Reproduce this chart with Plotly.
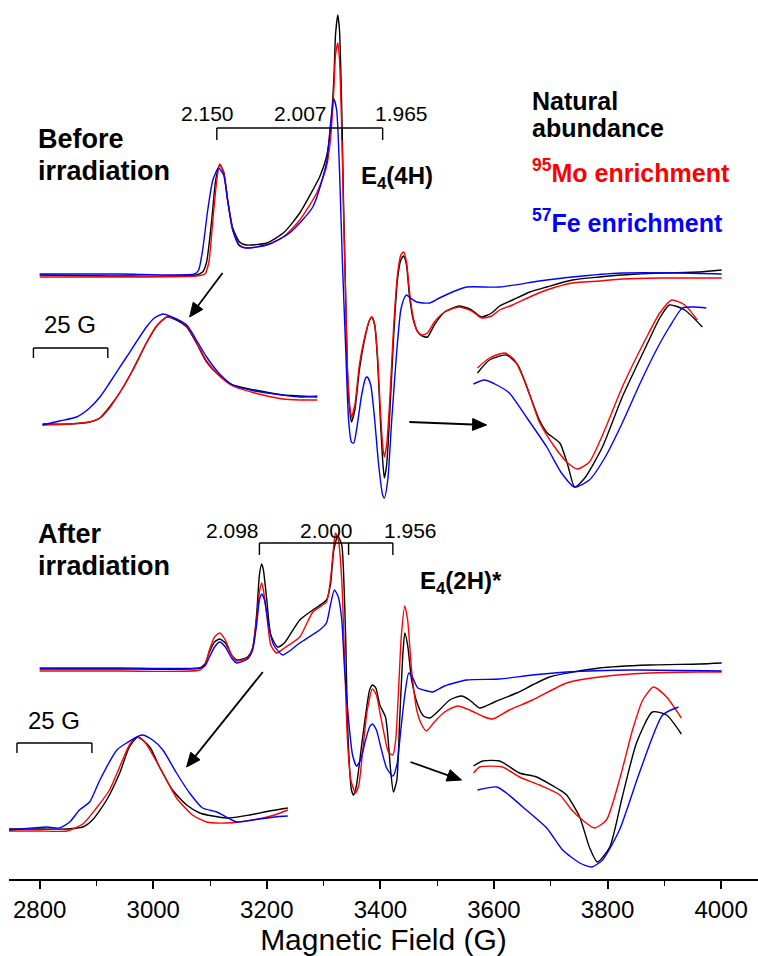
import plotly.graph_objects as go

# ---------------- data (field in G, signal in arbitrary units) ----------------
# Before irradiation, E4(4H)
before_nat_x = [2800, 2941, 3076, 3087, 3094, 3103, 3110, 3117, 3124, 3131, 3140, 3152, 3164, 3200, 3231, 3258, 3281, 3293, 3305, 3312, 3318, 3321, 3325, 3328, 3332, 3335, 3339, 3342, 3346, 3349, 3355, 3363, 3372, 3381, 3385, 3390, 3395, 3400, 3404, 3407, 3411, 3416, 3423, 3430, 3436, 3441, 3446, 3451, 3458, 3466, 3474, 3483, 3495, 3513, 3539, 3561, 3578, 3596, 3610, 3633, 3663, 3693, 3738, 3786, 3826, 3892, 3962, 4001]
before_nat_y = [604, 603, 604, 607, 617, 659, 699, 714, 707, 679, 651, 637, 634, 636, 647, 666, 689, 702, 722, 749, 799, 844, 864, 849, 769, 679, 579, 509, 469, 457, 469, 509, 539, 559, 562, 554, 519, 459, 419, 401, 414, 459, 539, 599, 619, 623, 614, 584, 559, 547, 543, 542, 554, 567, 573, 569, 562, 566, 573, 579, 587, 592, 599, 602, 604, 606, 607, 609]

before_mo_x = [2800, 2941, 3076, 3091, 3098, 3105, 3112, 3117, 3124, 3131, 3140, 3152, 3164, 3200, 3231, 3258, 3288, 3305, 3312, 3318, 3321, 3325, 3328, 3332, 3335, 3339, 3342, 3346, 3349, 3355, 3363, 3372, 3381, 3385, 3390, 3395, 3400, 3404, 3407, 3411, 3416, 3423, 3430, 3436, 3441, 3446, 3451, 3458, 3466, 3473, 3483, 3495, 3513, 3539, 3561, 3578, 3596, 3610, 3633, 3663, 3693, 3738, 3786, 3826, 3892, 3962, 4001]
before_mo_y = [602, 602, 603, 605, 617, 659, 699, 715, 707, 679, 649, 634, 631, 634, 643, 659, 686, 712, 739, 789, 824, 836, 819, 749, 669, 579, 509, 474, 462, 474, 514, 541, 559, 562, 554, 524, 469, 434, 422, 434, 474, 549, 604, 624, 627, 617, 589, 561, 547, 544, 546, 557, 567, 572, 568, 561, 563, 569, 574, 582, 589, 596, 598, 600, 601, 601, 601]

before_fe_x = [2800, 2941, 3073, 3080, 3087, 3096, 3105, 3115, 3124, 3131, 3140, 3152, 3166, 3205, 3240, 3281, 3305, 3312, 3318, 3323, 3328, 3333, 3339, 3344, 3349, 3353, 3358, 3367, 3374, 3377, 3383, 3390, 3397, 3404, 3407, 3413, 3420, 3429, 3436, 3443, 3446, 3453, 3464, 3487, 3504, 3531, 3552, 3610, 3680, 3738, 3826, 3927, 4001]
before_fe_y = [605, 605, 605, 609, 629, 669, 699, 711, 704, 679, 649, 633, 631, 635, 646, 672, 716, 754, 780, 769, 709, 619, 529, 459, 437, 436, 449, 484, 501, 502, 494, 459, 414, 384, 381, 399, 459, 529, 569, 582, 584, 581, 577, 576, 581, 588, 592, 592, 598, 602, 606, 606, 605]

# Before irradiation, expanded low-field peak (inset, 25 G bar)
inset1_nat_x = [2805, 2853, 2888, 2906, 2923, 2944, 2964, 2988, 3006, 3024, 3041, 3059, 3076, 3094, 3117, 3140, 3179, 3228, 3258, 3289]
inset1_nat_y = [455, 455, 457, 461, 472, 489, 509, 536, 553, 562, 559, 552, 536, 517, 503, 494, 489, 484, 483, 482]
inset1_mo_x = [2805, 2853, 2888, 2906, 2923, 2944, 2964, 2988, 3006, 3024, 3041, 3059, 3076, 3094, 3117, 3140, 3179, 3228, 3258, 3289]
inset1_mo_y = [454, 455, 457, 461, 471, 489, 509, 536, 553, 562, 560, 553, 537, 518, 503, 493, 486, 480, 479, 479]
inset1_fe_x = [2805, 2835, 2865, 2888, 2906, 2923, 2953, 2988, 3002, 3017, 3029, 3059, 3076, 3094, 3117, 3140, 3179, 3228, 3258, 3289]
inset1_fe_y = [454, 458, 462, 471, 482, 496, 522, 552, 561, 565, 563, 554, 539, 522, 505, 494, 488, 484, 482, 483]

# Before irradiation, expanded high-field feature (inset)
inset2_nat_x = [3571, 3592, 3622, 3642, 3663, 3680, 3694, 3716, 3730, 3742, 3760, 3791, 3826, 3869, 3892, 3909, 3936, 3967]
inset2_nat_y = [506, 519, 524, 514, 484, 459, 446, 436, 414, 392, 401, 432, 482, 534, 561, 574, 569, 552]
inset2_mo_x = [3571, 3592, 3619, 3636, 3657, 3680, 3707, 3730, 3747, 3768, 3795, 3826, 3869, 3892, 3913, 3936, 3958]
inset2_mo_y = [511, 521, 526, 519, 494, 457, 432, 416, 410, 417, 449, 492, 542, 566, 579, 574, 559]
inset2_fe_x = [3564, 3583, 3605, 3627, 3657, 3693, 3719, 3742, 3768, 3795, 3826, 3856, 3886, 3909, 3932, 3953, 3974]
inset2_fe_y = [495, 499, 494, 486, 462, 432, 406, 392, 399, 421, 456, 494, 529, 552, 571, 572, 571]

# After irradiation, E4(2H)*
after_nat_x = [2800, 2941, 3082, 3091, 3099, 3108, 3117, 3127, 3138, 3147, 3166, 3175, 3182, 3187, 3191, 3194, 3200, 3207, 3219, 3231, 3258, 3281, 3305, 3312, 3318, 3325, 3332, 3335, 3339, 3342, 3346, 3349, 3353, 3358, 3367, 3374, 3381, 3386, 3392, 3399, 3409, 3413, 3418, 3423, 3429, 3434, 3439, 3443, 3448, 3455, 3466, 3476, 3487, 3504, 3522, 3543, 3557, 3575, 3601, 3640, 3698, 3786, 3874, 3962, 4001]
after_nat_y = [210, 210, 211, 215, 227, 237, 240, 236, 224, 219, 222, 231, 264, 304, 315, 309, 279, 244, 232, 236, 259, 269, 279, 294, 329, 343, 334, 309, 239, 159, 109, 89, 84, 94, 134, 164, 189, 194, 191, 174, 162, 144, 109, 87, 99, 159, 219, 246, 234, 199, 174, 163, 161, 169, 179, 183, 179, 171, 177, 186, 202, 211, 214, 215, 216]

after_mo_x = [2800, 2941, 3082, 3091, 3099, 3108, 3117, 3127, 3138, 3147, 3166, 3175, 3182, 3187, 3191, 3194, 3200, 3207, 3217, 3231, 3258, 3281, 3305, 3312, 3318, 3321, 3326, 3332, 3337, 3342, 3348, 3356, 3362, 3369, 3377, 3386, 3393, 3400, 3407, 3414, 3422, 3427, 3432, 3437, 3443, 3448, 3455, 3464, 3473, 3481, 3495, 3513, 3536, 3557, 3583, 3598, 3627, 3668, 3728, 3786, 3874, 3962, 4001]
after_mo_y = [208, 208, 209, 214, 229, 242, 246, 239, 224, 218, 221, 231, 259, 287, 296, 289, 264, 234, 226, 231, 242, 267, 277, 299, 334, 346, 339, 299, 219, 139, 99, 86, 94, 129, 169, 190, 184, 164, 144, 127, 124, 139, 189, 244, 273, 259, 209, 169, 154, 148, 157, 167, 173, 169, 162, 160, 169, 179, 196, 202, 206, 207, 207]

after_fe_x = [2800, 2941, 3082, 3091, 3099, 3108, 3117, 3127, 3138, 3147, 3166, 3175, 3182, 3187, 3191, 3196, 3203, 3212, 3228, 3240, 3258, 3293, 3305, 3312, 3319, 3326, 3332, 3337, 3344, 3351, 3358, 3365, 3374, 3381, 3386, 3393, 3402, 3411, 3422, 3429, 3436, 3443, 3450, 3457, 3466, 3483, 3492, 3513, 3552, 3610, 3668, 3728, 3844, 4001]
after_fe_y = [211, 211, 211, 213, 222, 232, 237, 232, 221, 216, 220, 229, 254, 279, 285, 279, 254, 234, 224, 228, 236, 249, 256, 274, 289, 282, 259, 209, 159, 124, 113, 119, 139, 152, 155, 149, 129, 111, 103, 114, 149, 184, 206, 201, 191, 188, 187, 193, 199, 200, 204, 207, 209, 208]

# After irradiation, expanded low-field peak (inset, 25 G bar)
inset3_nat_x = [2745, 2788, 2848, 2876, 2893, 2918, 2941, 2958, 2973, 2994, 3011, 3034, 3059, 3082, 3129, 3170, 3205, 3237]
inset3_nat_y = [50, 50, 50, 52, 59, 79, 106, 132, 142, 132, 112, 89, 74, 66, 61, 64, 68, 71]
inset3_mo_x = [2745, 2800, 2848, 2876, 2900, 2923, 2946, 2958, 2971, 2985, 2994, 3017, 3041, 3069, 3094, 3129, 3175, 3214, 3237]
inset3_mo_y = [48, 48, 48, 55, 71, 89, 119, 134, 142, 137, 129, 106, 81, 64, 57, 56, 59, 64, 69]
inset3_fe_x = [2745, 2788, 2812, 2835, 2853, 2870, 2888, 2906, 2936, 2953, 2980, 2999, 3017, 3041, 3064, 3087, 3112, 3147, 3175, 3214, 3237]
inset3_fe_y = [49, 51, 52, 51, 57, 69, 77, 99, 129, 136, 144, 139, 129, 106, 86, 71, 67, 57, 59, 62, 63]

# After irradiation, expanded high-field feature (inset)
inset4_nat_x = [3564, 3580, 3610, 3645, 3675, 3716, 3728, 3751, 3768, 3782, 3804, 3826, 3851, 3879, 3904, 3930]
inset4_nat_y = [113, 118, 118, 106, 102, 89, 84, 62, 32, 17, 32, 82, 136, 167, 164, 145]
inset4_mo_x = [3564, 3575, 3615, 3645, 3680, 3716, 3737, 3756, 3777, 3798, 3821, 3844, 3862, 3881, 3904, 3930]
inset4_mo_y = [106, 112, 112, 102, 94, 84, 69, 59, 51, 59, 99, 149, 179, 192, 182, 161]
inset4_fe_x = [3571, 3605, 3622, 3657, 3693, 3721, 3751, 3772, 3791, 3821, 3856, 3897, 3925]
inset4_fe_y = [89, 92, 86, 69, 51, 29, 16, 12, 19, 49, 106, 164, 172]

tick_vals = [2800, 3000, 3200, 3400, 3600, 3800, 4000]
tick_text = ["2800", "3000", "3200", "3400", "3600", "3800", "4000"]

# ---------------- figure ----------------
BLACK, RED, BLUE = "#000000", "#ff0000", "#0000ff"
FONT = "Arial, Liberation Sans, sans-serif"

series = [
    (before_nat_x, before_nat_y, BLACK), (before_mo_x, before_mo_y, RED), (before_fe_x, before_fe_y, BLUE),
    (inset1_nat_x, inset1_nat_y, BLACK), (inset1_mo_x, inset1_mo_y, RED), (inset1_fe_x, inset1_fe_y, BLUE),
    (inset2_nat_x, inset2_nat_y, BLACK), (inset2_mo_x, inset2_mo_y, RED), (inset2_fe_x, inset2_fe_y, BLUE),
    (after_nat_x, after_nat_y, BLACK), (after_mo_x, after_mo_y, RED), (after_fe_x, after_fe_y, BLUE),
    (inset3_nat_x, inset3_nat_y, BLACK), (inset3_mo_x, inset3_mo_y, RED), (inset3_fe_x, inset3_fe_y, BLUE),
    (inset4_nat_x, inset4_nat_y, BLACK), (inset4_mo_x, inset4_mo_y, RED), (inset4_fe_x, inset4_fe_y, BLUE),
]

fig = go.Figure()
for xs, ys, col in series:
    fig.add_trace(go.Scatter(x=xs, y=ys, mode="lines",
                             line=dict(color=col, width=1.4, shape="spline", smoothing=0.6),
                             showlegend=False, hoverinfo="skip"))

shapes = []
def seg(x0, y0, x1, y1, w=1.4):
    shapes.append(dict(type="line", xref="x", yref="y", x0=x0, y0=y0, x1=x1, y1=y1,
                       line=dict(color="black", width=w)))

# g-value brackets
seg(3112, 751, 3404, 751); seg(3112, 751, 3112, 739); seg(3333, 751, 3333, 739); seg(3404, 751, 3404, 739)
seg(3187, 336, 3422, 336); seg(3187, 336, 3187, 324); seg(3344, 336, 3344, 324); seg(3422, 336, 3422, 324)
# 25 G scale bars
seg(2789, 531, 2920, 531); seg(2789, 531, 2789, 521); seg(2920, 531, 2920, 521)
seg(2760, 136, 2892, 136); seg(2760, 136, 2760, 126); seg(2892, 136, 2892, 126)

# arrows: shaft (tail -> base of head) + filled triangular head
def arrow(tail, base, tip, c1, c2):
    seg(tail[0], tail[1], base[0], base[1], w=1.8)
    shapes.append(dict(type="path", xref="x", yref="y",
                       path=f"M {tip[0]},{tip[1]} L {c1[0]},{c1[1]} L {c2[0]},{c2[1]} Z",
                       fillcolor="black", line=dict(color="black", width=1)))

arrow((3122, 606), (3078.9, 573.2), (3064.1, 562), (3087.3, 569.6), (3070.4, 576.8))
arrow((3451, 457), (3562.3, 454.5), (3587.0, 454), (3562.0, 448.6), (3562.7, 460.5))
arrow((3193, 207), (3074.2, 122.9), (3058.8, 112), (3082.4, 119.2), (3066.0, 126.7))
arrow((3453, 117), (3519.3, 103.7), (3543.0, 99), (3515.8, 98.0), (3522.8, 109.3))

ann = []
def txt(x, y, s, size, color="black", bold=False, anchor="center"):
    ann.append(dict(x=x, y=y, xref="x", yref="y", text=(f"<b>{s}</b>" if bold else s),
                    showarrow=False, xanchor=anchor, yanchor="middle",
                    font=dict(family=FONT, size=size, color=color)))

txt(2793, 740, "Before", 27, bold=True, anchor="left")
txt(2793, 708, "irradiation", 27, bold=True, anchor="left")
txt(2793, 345, "After", 27, bold=True, anchor="left")
txt(2793, 313, "irradiation", 27, bold=True, anchor="left")
txt(3663, 778, "Natural", 25, bold=True, anchor="left")
txt(3663, 751, "abundance", 25, bold=True, anchor="left")
txt(3663, 708, "<sup>95</sup>Mo enrichment", 25, color=RED, bold=True, anchor="left")
txt(3663, 658, "<sup>57</sup>Fe enrichment", 25, color=BLUE, bold=True, anchor="left")
txt(3363, 702, "E<sub>4</sub>(4H)", 24, bold=True, anchor="left")
txt(3466, 297, "E<sub>4</sub>(2H)*", 24, bold=True, anchor="left")
txt(3095, 766, "2.150", 21); txt(3259, 766, "2.007", 21); txt(3438, 766, "1.965", 21)
txt(3140, 349, "2.098", 21); txt(3305, 349, "2.000", 21); txt(3453, 349, "1.956", 21)
txt(2854, 555, "25 G", 24)
txt(2825, 159, "25 G", 24)

fig.update_layout(
    width=758, height=956,
    margin=dict(l=9, r=0, t=0, b=77),
    paper_bgcolor="white", plot_bgcolor="white",
    shapes=shapes, annotations=ann,
    font=dict(family=FONT, color="black"),
    xaxis=dict(range=[2746, 4065], tickvals=tick_vals, ticktext=tick_text,
               showline=True, linecolor="black", linewidth=1.6, showgrid=False, zeroline=False,
               ticks="outside", ticklen=8, tickwidth=1.6, tickcolor="black",
               tickfont=dict(family=FONT, size=24, color="black"),
               minor=dict(dtick=100, tick0=2800, ticks="outside", ticklen=5, tickwidth=1.4, tickcolor="black", showgrid=False),
               title=dict(text="Magnetic Field (G)", font=dict(family=FONT, size=30, color="black"), standoff=6)),
    yaxis=dict(range=[0, 879], visible=False, fixedrange=True),
)

fig.write_html("out.html")
